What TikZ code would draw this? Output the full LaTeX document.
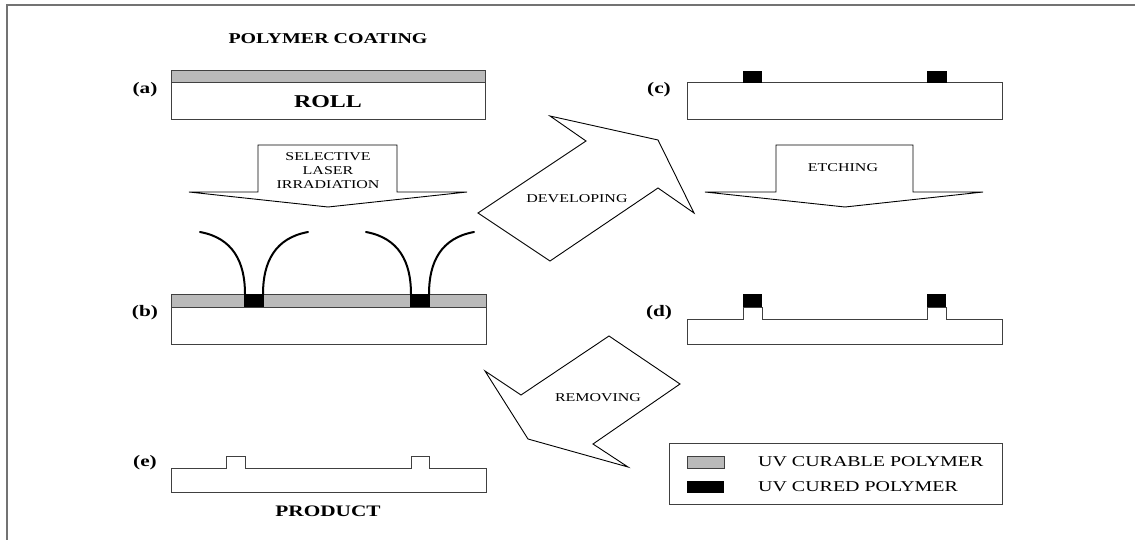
\documentclass[tikz,border=0pt]{standalone}
\usepackage{fontspec}
\setmainfont{Liberation Serif}[FakeStretch=1.33]
\begin{document}
\begin{tikzpicture}[x=1pt,y=-1pt,
  layer/.style={draw=black!75, line width=1pt, fill=white},
  curable/.style={draw=black!75, line width=1pt, fill=black!27},
  cured/.style={fill=black},
  bigarrow/.style={draw=black, line width=0.9pt, fill=white, line join=miter},
  beam/.style={line width=2pt, line cap=round},
  lbl/.style={font=\bfseries\fontsize{16}{16}\selectfont, inner sep=0pt},
  title/.style={font=\bfseries\fontsize{15}{15}\selectfont, inner sep=0pt},
  atext/.style={font=\fontsize{12}{14}\selectfont, inner sep=0pt, align=center},
  legtext/.style={font=\fontsize{15}{15}\selectfont, inner sep=0pt, anchor=west}]
\useasboundingbox (0,0) rectangle (1135,540);
% frame
\draw[black!55, line width=1.5pt] (7,540) -- (7,5) -- (1135,5);

% (a) polymer coating on roll
\node[title] (tcoat) at (328,39) {POLYMER COATING};
\draw[curable] (171,71) rectangle (485,83);
\draw[layer] (171,83) rectangle (485,120);
\node[font=\bfseries\fontsize{18}{18}\selectfont, inner sep=0pt] (roll) at (328,102) {ROLL};
\node[lbl] (la) at (145,90) {(a)};

% selective laser irradiation arrow
\draw[bigarrow] (258,145) -- (397,145) -- (397,192) -- (467,192) -- (328,207) -- (189,192) -- (258,192) -- cycle;
\node[atext] (tsel) at (328,171) {SELECTIVE\\LASER\\IRRADIATION};

% (b) laser irradiation
\draw[layer] (171,307) rectangle (486,344);
\draw[curable] (171,294) rectangle (486,307);
\fill[cured] (244,294) rectangle (264,307);
\fill[cured] (410,294) rectangle (430,307);
\draw[beam] (200,232) .. controls (233,238) and (245,262) .. (245,294);
\draw[beam] (308,232) .. controls (275,238) and (263,262) .. (263,294);
\draw[beam] (366,232) .. controls (399,238) and (411,262) .. (411,294);
\draw[beam] (474,232) .. controls (441,238) and (429,262) .. (429,294);
\node[lbl] (lb) at (145,313) {(b)};

% developing arrow
\draw[bigarrow] (478,213) -- (586,141) -- (550,116) -- (658,140) -- (694,213) -- (658,188) -- (550,261) -- cycle;
\node[atext] (tdev) at (577,199) {DEVELOPING};

% (c) developed
\draw[layer] (687,83) rectangle (1002,120);
\fill[cured] (743,71) rectangle (762,83);
\fill[cured] (927,71) rectangle (947,83);
\node[lbl] (lc) at (659,90) {(c)};

% etching arrow
\draw[bigarrow] (776,145) -- (913,145) -- (913,192) -- (983,192) -- (845,207) -- (705,192) -- (776,192) -- cycle;
\node[atext] (tetch) at (843,168) {ETCHING};

% (d) etched
\draw[layer] (687,319) -- (743,319) -- (743,307) -- (762,307) -- (762,319) -- (927,319) -- (927,307) -- (946,307) -- (946,319) -- (1002,319) -- (1002,344) -- (687,344) -- cycle;
\fill[cured] (743,294) rectangle (762,307);
\fill[cured] (927,294) rectangle (946,307);
\node[lbl] (ld) at (659,313) {(d)};

% removing arrow
\draw[bigarrow] (609,336) -- (680,384) -- (593,444) -- (628,467) -- (528,439) -- (485,371) -- (521,395) -- cycle;
\node[atext] (trem) at (598,398) {REMOVING};

% (e) product
\draw[layer] (171,468) -- (226,468) -- (226,456) -- (245,456) -- (245,468) -- (411,468) -- (411,456) -- (429,456) -- (429,468) -- (486,468) -- (486,492) -- (171,492) -- cycle;
\node[lbl] (le) at (145,463) {(e)};
\node[font=\bfseries\fontsize{16}{16}\selectfont, inner sep=0pt] (tprod) at (328,511) {PRODUCT};

% legend
\draw[draw=black!75, line width=1pt] (669,443) rectangle (1002,504);
\draw[curable] (687,456) rectangle (724,468);
\fill[cured] (687,481) rectangle (724,493);
\node[legtext] (lg1) at (758,462) {UV CURABLE POLYMER};
\node[legtext] (lg2) at (758,487) {UV CURED POLYMER};
\end{tikzpicture}
\end{document}
